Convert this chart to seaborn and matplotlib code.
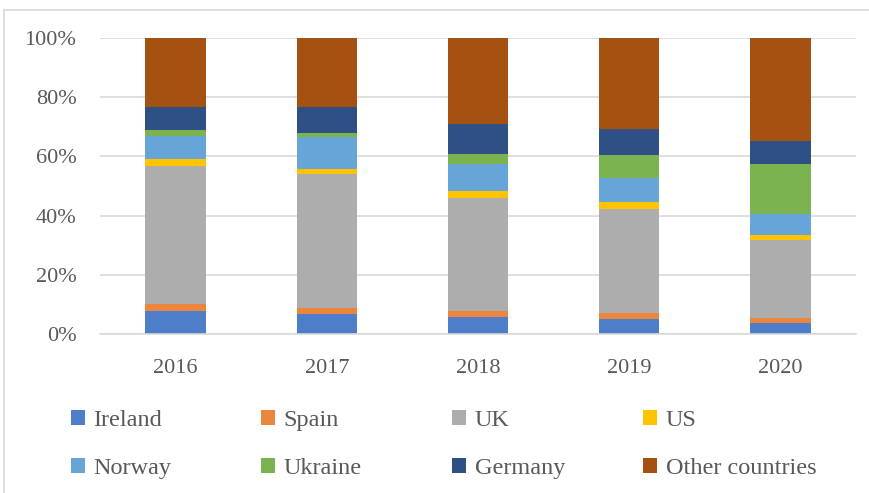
import numpy as np
import pandas as pd
import matplotlib
matplotlib.use('Agg')
import matplotlib.pyplot as plt
import seaborn as sns
from matplotlib.patches import Patch
from matplotlib.lines import Line2D
from matplotlib.ticker import PercentFormatter

years = ['2016', '2017', '2018', '2019', '2020']
countries = ['Ireland', 'Spain', 'UK', 'US', 'Norway', 'Ukraine', 'Germany', 'Other countries']

# shares in %
ireland = [7.9, 6.9, 5.6, 5.0, 3.6]
spain = [2.1, 1.8, 2.3, 2.1, 1.8]
uk = [46.8, 45.4, 38.0, 35.0, 26.2]
us = [2.2, 1.7, 2.3, 2.5, 1.8]
norway = [7.9, 10.7, 9.3, 8.2, 7.3]
ukraine = [2.1, 1.3, 3.3, 7.6, 16.8]
germany = [7.6, 8.9, 10.0, 8.7, 7.6]
other = [23.4, 23.4, 29.2, 30.9, 34.9]

colors = ['#4e7dc9', '#ed863d', '#adadad', '#ffc300',
          '#67a4d8', '#7cb351', '#2e5085', '#a55112']

df = pd.DataFrame({'Year': years, 'Ireland': ireland, 'Spain': spain, 'UK': uk, 'US': us,
                   'Norway': norway, 'Ukraine': ukraine, 'Germany': germany,
                   'Other countries': other})

sns.set_style('white')
plt.rcParams['font.family'] = ['Liberation Serif', 'DejaVu Serif']
text_col = '#595959'

fig = plt.figure(figsize=(8.69, 4.93), dpi=100)
ax = fig.add_axes([0.1151, 0.3225, 0.870, 0.6004])

# stack bars: draw cumulative totals from the top down so lower segments overlay
cum = df[countries].cumsum(axis=1)
for name, col in reversed(list(zip(countries, colors))):
    sns.barplot(x=df['Year'], y=cum[name], color=col, width=0.4, saturation=1,
                ax=ax, zorder=2, linewidth=0)

ax.set_ylim(0, 100)
ax.set_xlim(-0.5, 4.5)
ax.yaxis.set_major_formatter(PercentFormatter(decimals=0))
ax.set_yticks(np.arange(0, 101, 20))
ax.grid(axis='y', color='#d9d9d9', linewidth=1.2, zorder=0)
ax.set_axisbelow(True)
for s in ['top', 'right', 'left']:
    ax.spines[s].set_visible(False)
ax.spines['bottom'].set_color('#d9d9d9')
ax.spines['bottom'].set_linewidth(1.2)
ax.set_xlabel('')
ax.set_ylabel('')
ax.tick_params(axis='both', length=0, labelsize=16, colors=text_col)
ax.tick_params(axis='x', pad=18)
ax.tick_params(axis='y', pad=17)

# legend: 4 equal-width columns, 2 rows
handles = [Patch(facecolor=c, edgecolor='none') for c in colors]
col_x = [71, 261, 452, 643]
for j, x in enumerate(col_x):
    fig.legend([handles[j], handles[j + 4]], [countries[j], countries[j + 4]],
               loc='upper left', bbox_to_anchor=(x / 869, 1 - 410 / 493),
               frameon=False, fontsize=17.5, labelcolor=text_col,
               handlelength=0.58, handleheight=0.58, handletextpad=0.35,
               labelspacing=1.1, borderpad=0, borderaxespad=0)

# chart-area border (only top and left edges visible in the original)
fig.add_artist(Line2D([4 / 869, 1], [1 - 10 / 493, 1 - 10 / 493], transform=fig.transFigure,
                      color='#d9d9d9', linewidth=1.2))
fig.add_artist(Line2D([4 / 869, 4 / 869], [0, 1 - 10 / 493], transform=fig.transFigure,
                      color='#d9d9d9', linewidth=1.2))

fig.savefig('out.png', dpi=100)
